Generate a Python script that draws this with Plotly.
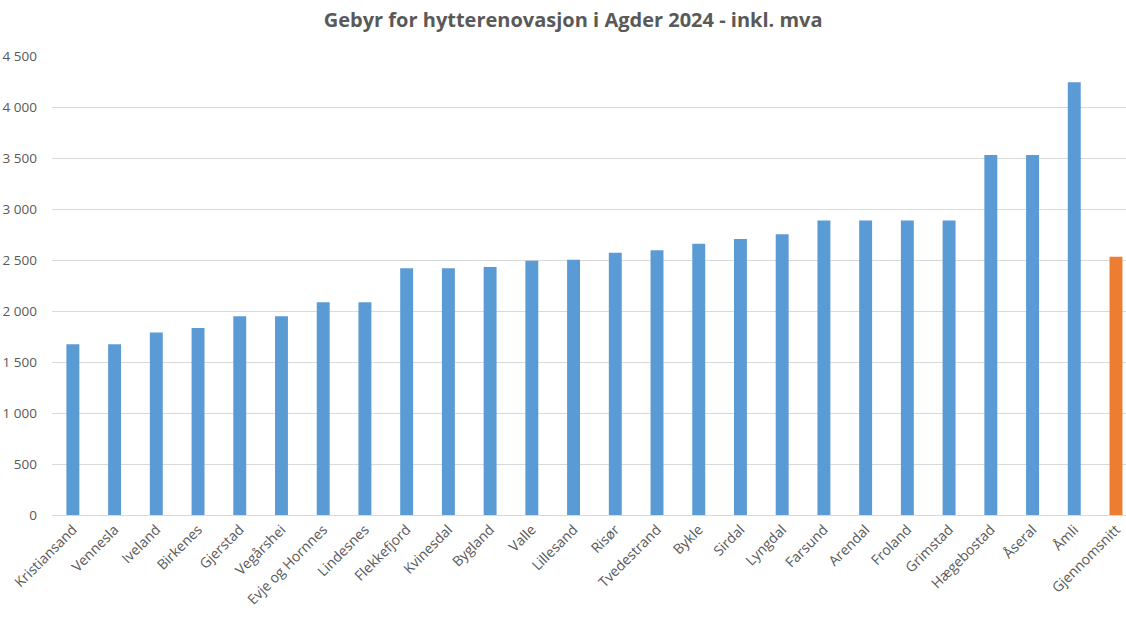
import plotly.graph_objects as go

kommuner = ["Kristiansand", "Vennesla", "Iveland", "Birkenes", "Gjerstad", "Vegårshei",
            "Evje og Hornnes", "Lindesnes", "Flekkefjord", "Kvinesdal", "Bygland", "Valle",
            "Lillesand", "Risør", "Tvedestrand", "Bykle", "Sirdal", "Lyngdal", "Farsund",
            "Arendal", "Froland", "Grimstad", "Hægebostad", "Åseral", "Åmli", "Gjennomsnitt"]
gebyr = [1674, 1674, 1788, 1833, 1949, 1949, 2086, 2086, 2420, 2420, 2431, 2493,
         2503, 2572, 2595, 2660, 2706, 2752, 2888, 2888, 2888, 2888, 3530, 3530, 4243, 2533]
farger = ["#5B9BD5"] * 25 + ["#ED7D31"]

fig = go.Figure(go.Bar(
    x=kommuner, y=gebyr,
    marker=dict(color=farger, line=dict(width=0)),
))

fig.update_layout(
    width=1126, height=617,
    paper_bgcolor="white", plot_bgcolor="white",
    margin=dict(l=52, r=0, t=56, b=102),
    bargap=0.69,
    separators=", ",
    showlegend=False,
    title=dict(text="<b>Gebyr for hytterenovasjon i Agder 2024 - inkl. mva</b>",
               x=0.509, xanchor="center", y=0.967, yanchor="middle",
               font=dict(family="Open Sans", size=20, color="#595959")),
    font=dict(family="Open Sans", color="#595959"),
)
fig.update_xaxes(
    range=[-0.5, 25.24], tickangle=-45, tickfont=dict(size=14, color="#595959"),
    showline=True, linecolor="#D9D9D9", linewidth=1, showgrid=False, ticks="",
    automargin=False,
)
fig.update_yaxes(
    range=[0, 4500], dtick=500, tickformat=",d", tickfont=dict(size=13.5, color="#595959"),
    showgrid=True, gridcolor="#D9D9D9", gridwidth=1, zeroline=False, showline=False,
    ticklabelstandoff=14, automargin=False,
)

fig.write_html("out.html", config={"displayModeBar": False},
               post_script="document.body.style.margin='0';document.body.style.overflow='hidden';")
